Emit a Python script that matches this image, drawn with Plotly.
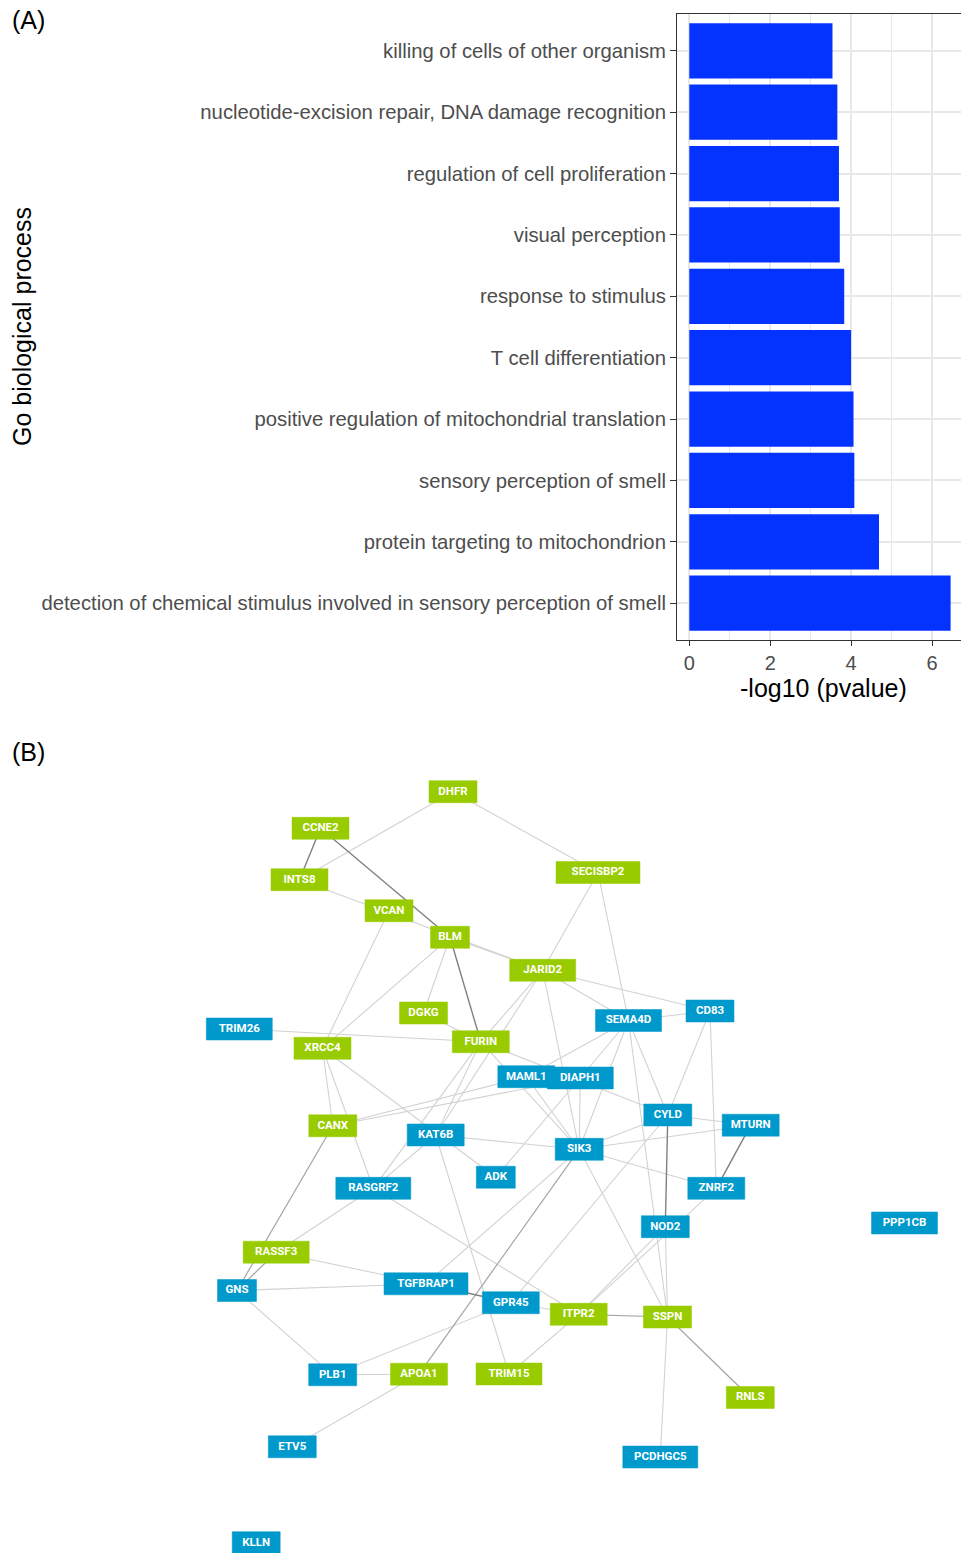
import plotly.graph_objects as go

W, H = 961, 1553

# ---------------- (A) GO enrichment bars ----------------
go_terms = [
    "killing of cells of other organism",
    "nucleotide-excision repair, DNA damage recognition",
    "regulation of cell proliferation",
    "visual perception",
    "response to stimulus",
    "T cell differentiation",
    "positive regulation of mitochondrial translation",
    "sensory perception of smell",
    "protein targeting to mitochondrion",
    "detection of chemical stimulus involved in sensory perception of smell",
]
neg_log10_p = [3.54, 3.66, 3.70, 3.72, 3.83, 4.00, 4.06, 4.08, 4.69, 6.46]
x_ticks = [0, 2, 4, 6]

# ---------------- (B) interaction network ----------------
green_genes = ["DHFR", "CCNE2", "INTS8", "VCAN", "BLM", "SECISBP2", "JARID2", "DGKG",
               "FURIN", "XRCC4", "CANX", "RASSF3", "ITPR2", "SSPN", "APOA1", "TRIM15", "RNLS"]
green_x = [453, 320.5, 299.5, 389, 450, 598, 542.7, 423.5,
           480.8, 322.5, 332.8, 276.2, 578.7, 667.5, 419, 509, 750.3]
green_y = [791.7, 828.3, 879.7, 910.7, 937.3, 872.5, 970.3, 1013,
           1041.7, 1048.3, 1125.8, 1252.2, 1314.3, 1317, 1374.2, 1374, 1397.5]

blue_genes = ["TRIM26", "SEMA4D", "CD83", "MAML1", "DIAPH1", "CYLD", "MTURN", "KAT6B",
              "SIK3", "ADK", "ZNRF2", "RASGRF2", "NOD2", "PPP1CB", "GNS", "TGFBRAP1",
              "GPR45", "PLB1", "ETV5", "PCDHGC5", "KLLN"]
blue_x = [239.3, 628.5, 710, 526.3, 580.3, 667.8, 750.7, 435.7,
          579.2, 495.8, 716.3, 373.3, 665.3, 904.5, 237, 426,
          510.8, 332.7, 292.3, 660.3, 256.2]
blue_y = [1029, 1020.5, 1011, 1076.7, 1078, 1115, 1125.2, 1135,
          1149.3, 1177.2, 1188.3, 1188.3, 1226.7, 1223, 1290.5, 1283.8,
          1302.7, 1374.8, 1446.8, 1457, 1542.7]

strong_links = [("CCNE2", "INTS8"), ("CCNE2", "BLM"), ("BLM", "FURIN"), ("CYLD", "NOD2"),
                ("MTURN", "ZNRF2"), ("TGFBRAP1", "GPR45")]
medium_links = [("CANX", "GNS"), ("RASSF3", "GNS"), ("SIK3", "APOA1"), ("ITPR2", "SSPN"),
                ("SSPN", "RNLS")]
weak_links = [
    ("DHFR", "INTS8"), ("DHFR", "SECISBP2"), ("INTS8", "JARID2"), ("VCAN", "XRCC4"),
    ("BLM", "XRCC4"), ("BLM", "DGKG"), ("BLM", "JARID2"), ("DGKG", "FURIN"),
    ("TRIM26", "FURIN"), ("SECISBP2", "JARID2"), ("SECISBP2", "SEMA4D"), ("JARID2", "CD83"),
    ("JARID2", "SEMA4D"), ("JARID2", "FURIN"), ("JARID2", "KAT6B"), ("JARID2", "SIK3"),
    ("XRCC4", "CANX"), ("XRCC4", "RASGRF2"), ("XRCC4", "ADK"), ("CANX", "MAML1"),
    ("CANX", "DIAPH1"), ("KAT6B", "SIK3"), ("FURIN", "KAT6B"), ("RASGRF2", "KAT6B"),
    ("RASGRF2", "FURIN"), ("KAT6B", "TRIM15"), ("FURIN", "SIK3"), ("FURIN", "CYLD"),
    ("MAML1", "SIK3"), ("DIAPH1", "SIK3"), ("DIAPH1", "ADK"), ("SEMA4D", "MAML1"),
    ("SEMA4D", "DIAPH1"), ("SEMA4D", "SIK3"), ("SEMA4D", "CYLD"), ("SEMA4D", "SSPN"),
    ("SEMA4D", "CD83"), ("CD83", "CYLD"), ("CD83", "ZNRF2"), ("CYLD", "MTURN"),
    ("CYLD", "SIK3"), ("MTURN", "SIK3"), ("SIK3", "ZNRF2"), ("SIK3", "TGFBRAP1"),
    ("CYLD", "GPR45"), ("SIK3", "SSPN"), ("RASGRF2", "ITPR2"), ("NOD2", "ITPR2"),
    ("ZNRF2", "ITPR2"), ("NOD2", "SSPN"), ("SSPN", "PCDHGC5"), ("ITPR2", "GPR45"),
    ("ITPR2", "TRIM15"), ("GPR45", "PLB1"), ("RASSF3", "TGFBRAP1"), ("GNS", "TGFBRAP1"),
    ("GNS", "PLB1"), ("RASSF3", "RASGRF2"), ("PLB1", "APOA1"), ("APOA1", "ETV5"),
]

GREEN = "#99CC00"
BLUE = "#0099CC"
BAR_BLUE = "#0433FF"
NODE_H = 22


def py(pix):
    """Pixel row -> paper fraction."""
    return 1 - pix / H


def px(pix):
    return pix / W


pos = {}
for g, x, y in zip(green_genes, green_x, green_y):
    pos[g] = (x, y)
for g, x, y in zip(blue_genes, blue_x, blue_y):
    pos[g] = (x, y)


def node_width(label):
    return 12 + 9 * len(label)


def link_path(links):
    xs, ys = [], []
    for a, b in links:
        xs += [pos[a][0], pos[b][0], None]
        ys += [pos[a][1], pos[b][1], None]
    return xs, ys


def box_path(genes):
    xs, ys = [], []
    for g in genes:
        cx, cy = pos[g]
        hw, hh = node_width(g) / 2, NODE_H / 2
        xs += [cx - hw, cx + hw, cx + hw, cx - hw, cx - hw, None]
        ys += [cy - hh, cy - hh, cy + hh, cy + hh, cy - hh, None]
    return xs, ys


fig = go.Figure()

fig.add_trace(go.Bar(
    x=neg_log10_p, y=go_terms, orientation="h", width=0.9,
    marker=dict(color=BAR_BLUE, line=dict(width=0)),
    xaxis="x", yaxis="y", hoverinfo="x+y", showlegend=False,
))

for links, colour, lw in [(weak_links, "#d2d2d2", 1.1),
                          (medium_links, "#a5a5a5", 1.2),
                          (strong_links, "#808080", 1.4)]:
    ex, ey = link_path(links)
    fig.add_trace(go.Scatter(
        x=ex, y=ey, mode="lines", line=dict(color=colour, width=lw),
        xaxis="x2", yaxis="y2", hoverinfo="skip", showlegend=False,
    ))

for genes, colour in [(green_genes, GREEN), (blue_genes, BLUE)]:
    bx, by = box_path(genes)
    fig.add_trace(go.Scatter(
        x=bx, y=by, mode="lines", fill="toself", fillcolor=colour,
        line=dict(color=colour, width=0.5),
        xaxis="x2", yaxis="y2", hoverinfo="skip", showlegend=False,
    ))

all_genes = green_genes + blue_genes
fig.add_trace(go.Scatter(
    x=[pos[g][0] for g in all_genes], y=[pos[g][1] for g in all_genes],
    mode="text", text=all_genes, textposition="middle center",
    textfont=dict(family="Roboto", size=11.5, color="white", weight="bold"),
    xaxis="x2", yaxis="y2", hoverinfo="text", showlegend=False,
))

# axis geometry of panel A (pixel-based)
left_px, zero_px, unit_px = 677, 689.3, 40.45
x_lo = -(zero_px - left_px) / unit_px
x_hi = x_lo + (W - left_px) / unit_px

GRID = "#E8E8E8"
fig.update_layout(
    width=W, height=H,
    margin=dict(l=0, r=0, t=0, b=0),
    paper_bgcolor="white", plot_bgcolor="white",
    font=dict(family="Liberation Sans, Arial, sans-serif"),
    xaxis=dict(
        domain=[px(left_px), 1.0], range=[x_lo, x_hi],
        tickvals=x_ticks, ticks="outside", ticklen=5, tickwidth=1.1, tickcolor="#333333",
        tickfont=dict(size=20, color="#4D4D4D"),
        showgrid=True, gridcolor=GRID, gridwidth=1.5,
        minor=dict(dtick=1, tick0=0, showgrid=True, gridcolor=GRID, gridwidth=0.8, ticks=""),
        zeroline=False, showline=True, linecolor="#333333", linewidth=1, mirror=True,
        anchor="y",
    ),
    yaxis=dict(
        domain=[py(640), py(14)], type="category", categoryorder="array",
        categoryarray=go_terms, range=[9.6, -0.6],
        ticks="outside", ticklen=6, tickwidth=1.1, tickcolor="#333333",
        tickfont=dict(size=20.3, color="#4D4D4D"),
        showgrid=True, gridcolor=GRID, gridwidth=1.5,
        zeroline=False, showline=True, linecolor="#333333", linewidth=1,
        anchor="x",
    ),
    xaxis2=dict(domain=[0, 1], range=[0, W], visible=False, anchor="y2"),
    yaxis2=dict(domain=[0, py(770)], range=[H, 770], visible=False, anchor="x2"),
    annotations=[
        dict(text="-log10 (pvalue)", x=px(823), y=py(688), xref="paper", yref="paper",
             showarrow=False, font=dict(size=25, color="black"), xanchor="center", yanchor="middle"),
        dict(text="Go biological process", x=px(22), y=py(327), xref="paper", yref="paper",
             showarrow=False, textangle=-90, font=dict(size=25, color="black"),
             xanchor="center", yanchor="middle"),
        dict(text="(A)", x=px(10), y=py(20), xref="paper", yref="paper", showarrow=False,
             font=dict(size=25, color="black"), xanchor="left", yanchor="middle"),
        dict(text="(B)", x=px(10), y=py(752), xref="paper", yref="paper", showarrow=False,
             font=dict(size=25, color="black"), xanchor="left", yanchor="middle"),
    ],
)

fig.write_html("out.html")
